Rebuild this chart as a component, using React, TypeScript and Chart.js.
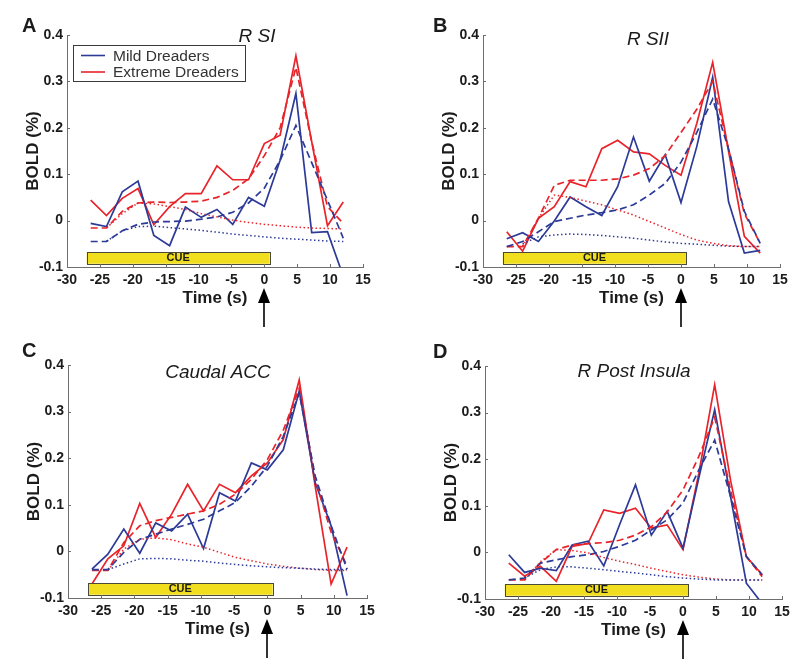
import React, { useEffect, useRef } from 'react';
import { Chart, registerables } from 'chart.js';

Chart.register(...registerables);

// ---------- data ----------
const timeSec = [-26.4, -24, -21.6, -19.2, -16.8, -14.4, -12, -9.6, -7.2, -4.8, -2.4, 0, 2.4, 4.8, 7.2, 9.6, 12];
const xTickValues = [-30, -25, -20, -15, -10, -5, 0, 5, 10, 15];
const xTickLabels = ['-30', '-25', '-20', '-15', '-10', '-5', '0', '5', '10', '15'];
const yTickValues = [-0.1, 0, 0.1, 0.2, 0.3, 0.4];
const yTickLabels = ['-0.1', '0', '0.1', '0.2', '0.3', '0.4'];
const seriesNames = ['Mild Dreaders', 'Extreme Dreaders'];
const panelTitles = ['R SI', 'R SII', 'Caudal ACC', 'R Post Insula'];
const panelLetters = ['A', 'B', 'C', 'D'];
const cueWindow = [-27, 0.8];
const cueBand = [-0.093, -0.068];
const cueLabel = 'CUE';
const xAxisTitle = 'Time (s)';
const yAxisTitle = 'BOLD (%)';

// Panel A: R SI
const aMildRaw = [-0.006, -0.013, 0.062, 0.085, -0.032, -0.054, 0.029, 0.007, 0.024, -0.008, 0.05, 0.031, 0.13, 0.274, -0.026, -0.024, -0.12];
const aExtremeRaw = [0.044, 0.011, 0.048, 0.069, -0.009, 0.03, 0.058, 0.058, 0.118, 0.088, 0.088, 0.166, 0.184, 0.355, 0.17, -0.011, 0.04];
const aMildFit = [-0.045, -0.045, -0.022, -0.008, -0.003, -0.002, -0.001, 0.003, 0.008, 0.018, 0.038, 0.07, 0.13, 0.205, 0.125, 0.044, -0.038];
const aExtremeFit = [-0.016, -0.016, 0.02, 0.038, 0.04, 0.039, 0.04, 0.042, 0.05, 0.065, 0.09, 0.14, 0.2, 0.33, 0.17, 0.03, -0.006];
const aMildDot = [null, -0.045, -0.022, -0.013, -0.012, -0.015, -0.018, -0.021, -0.025, -0.029, -0.032, -0.035, -0.038, -0.04, -0.042, -0.044, -0.045];
const aExtremeDot = [null, -0.016, 0.015, 0.038, 0.036, 0.03, 0.024, 0.015, 0.008, 0.001, -0.004, -0.008, -0.011, -0.014, -0.016, -0.017, -0.018];

// Panel B: R SII
const bMildRaw = [-0.039, -0.026, -0.045, -0.001, 0.051, 0.03, 0.011, 0.073, 0.18, 0.085, 0.142, 0.039, 0.16, 0.309, 0.041, -0.07, -0.064];
const bExtremeRaw = [-0.024, -0.066, 0.005, 0.03, 0.084, 0.073, 0.155, 0.173, 0.148, 0.144, 0.119, 0.098, 0.21, 0.341, 0.15, -0.034, -0.07];
const bMildFit = [-0.056, -0.045, -0.024, -0.002, 0.005, 0.012, 0.017, 0.023, 0.034, 0.055, 0.08, 0.126, 0.19, 0.262, 0.155, 0.02, -0.049];
const bExtremeFit = [-0.056, -0.056, 0.005, 0.076, 0.087, 0.087, 0.087, 0.09, 0.098, 0.112, 0.14, 0.19, 0.24, 0.3, 0.155, 0.015, -0.049];
const bMildDot = [null, -0.05, -0.035, -0.031, -0.029, -0.03, -0.032, -0.035, -0.038, -0.042, -0.046, -0.049, -0.051, -0.053, -0.055, -0.056, -0.056];
const bExtremeDot = [null, -0.056, 0.005, 0.055, 0.05, 0.042, 0.034, 0.023, 0.012, -0.002, -0.016, -0.03, -0.042, -0.049, -0.054, -0.056, -0.056];

// Panel C: Caudal ACC
const cMildRaw = [-0.038, -0.006, 0.048, -0.004, 0.061, 0.044, 0.08, 0.006, 0.126, 0.108, 0.19, 0.175, 0.218, 0.344, 0.148, 0.055, -0.095];
const cExtremeRaw = [-0.07, -0.016, 0.012, 0.103, 0.03, 0.08, 0.144, 0.087, 0.144, 0.126, 0.162, 0.19, 0.24, 0.368, 0.14, -0.07, 0.009];
const cMildFit = [-0.039, -0.039, -0.002, 0.026, 0.037, 0.048, 0.058, 0.069, 0.087, 0.105, 0.14, 0.183, 0.247, 0.34, 0.162, 0.055, -0.038];
const cExtremeFit = [-0.041, -0.041, 0.019, 0.055, 0.066, 0.073, 0.08, 0.087, 0.101, 0.123, 0.155, 0.197, 0.26, 0.35, 0.155, 0.041, -0.031];
const cMildDot = [null, -0.039, -0.027, -0.016, -0.015, -0.016, -0.019, -0.021, -0.025, -0.028, -0.031, -0.033, -0.035, -0.036, -0.038, -0.039, -0.039];
const cExtremeDot = [null, -0.041, 0.005, 0.026, 0.029, 0.025, 0.016, 0.009, -0.002, -0.013, -0.02, -0.027, -0.032, -0.036, -0.039, -0.041, -0.041];

// Panel D: R Post Insula
const dMildRaw = [-0.005, -0.043, -0.034, -0.039, 0.016, 0.024, -0.029, 0.06, 0.145, 0.037, 0.088, 0.009, 0.16, 0.306, 0.12, -0.066, -0.11];
const dExtremeRaw = [-0.023, -0.051, -0.03, -0.062, 0.013, 0.019, 0.091, 0.084, 0.095, 0.052, 0.059, 0.006, 0.17, 0.36, 0.155, -0.009, -0.048];
const dMildFit = [-0.059, -0.055, -0.023, -0.016, -0.009, -0.005, 0.002, 0.013, 0.026, 0.048, 0.07, 0.106, 0.177, 0.241, 0.12, -0.009, -0.048];
const dExtremeFit = [-0.059, -0.059, -0.023, 0.006, 0.016, 0.019, 0.021, 0.026, 0.037, 0.055, 0.087, 0.134, 0.206, 0.29, 0.134, -0.009, -0.052];
const dMildDot = [null, -0.055, -0.037, -0.031, -0.031, -0.034, -0.037, -0.041, -0.044, -0.048, -0.052, -0.055, -0.057, -0.059, -0.059, -0.059, -0.059];
const dExtremeDot = [null, -0.059, -0.02, 0.006, 0.004, -0.001, -0.011, -0.019, -0.026, -0.034, -0.041, -0.048, -0.053, -0.057, -0.059, -0.059, -0.059];

const panelSeries = [
  { mildRaw: aMildRaw, extremeRaw: aExtremeRaw, mildFit: aMildFit, extremeFit: aExtremeFit, mildDot: aMildDot, extremeDot: aExtremeDot },
  { mildRaw: bMildRaw, extremeRaw: bExtremeRaw, mildFit: bMildFit, extremeFit: bExtremeFit, mildDot: bMildDot, extremeDot: bExtremeDot },
  { mildRaw: cMildRaw, extremeRaw: cExtremeRaw, mildFit: cMildFit, extremeFit: cExtremeFit, mildDot: cMildDot, extremeDot: cExtremeDot },
  { mildRaw: dMildRaw, extremeRaw: dExtremeRaw, mildFit: dMildFit, extremeFit: dExtremeFit, mildDot: dMildDot, extremeDot: dExtremeDot },
];

// ---------- styling / layout ----------
const FONT = '"Liberation Sans", Arial, Helvetica, sans-serif';
const BLUE = '#2c3a98';
const RED = '#e8242a';
const AXIS = '#6e6e6e';
const TEXT = '#1b1b1b';
const CUE_FILL = '#f1de1e';
const CUE_EDGE = '#4a4a3a';
const CW = 400;
const CH = 332;

const panelLayout = [
  { x: 0, y: 0, left: 67, right: 363, top: 35, bottom: 267, titleX: 257, titleY: 42, letterX: 22, letterY: 32, legend: true },
  { x: 400, y: 0, left: 83, right: 380, top: 35, bottom: 267, titleX: 248, titleY: 45, letterX: 33, letterY: 32, legend: false },
  { x: 0, y: 332, left: 68, right: 367, top: 33, bottom: 266, titleX: 218, titleY: 46, letterX: 22, letterY: 25, legend: false },
  { x: 400, y: 332, left: 85, right: 382, top: 34, bottom: 267, titleX: 234, titleY: 45, letterX: 33, letterY: 26, legend: false },
];

function pts(arr: (number | null)[]) {
  return timeSec.map((t, i) => ({ x: t, y: arr[i] }));
}

function labelFor(values: number[], labels: string[], v: number) {
  const i = values.findIndex((w) => Math.abs(w - v) < 1e-6);
  return i >= 0 ? labels[i] : '';
}

function makeDecor(idx: number) {
  const L = panelLayout[idx];
  return {
    id: 'decor' + idx,
    afterDatasetsDraw(chart: any) {
      const ctx = chart.ctx;
      const xs = chart.scales.x;
      const ys = chart.scales.y;
      ctx.save();
      // CUE bar
      const x0 = xs.getPixelForValue(cueWindow[0]);
      const x1 = xs.getPixelForValue(cueWindow[1]);
      const y0 = ys.getPixelForValue(cueBand[1]);
      const y1 = ys.getPixelForValue(cueBand[0]);
      ctx.fillStyle = CUE_FILL;
      ctx.fillRect(x0, y0, x1 - x0, y1 - y0);
      ctx.strokeStyle = CUE_EDGE;
      ctx.lineWidth = 1;
      ctx.strokeRect(Math.round(x0) + 0.5, Math.round(y0) + 0.5, Math.round(x1 - x0), Math.round(y1 - y0));
      ctx.fillStyle = TEXT;
      ctx.font = 'bold 11px ' + FONT;
      ctx.textAlign = 'center';
      ctx.textBaseline = 'middle';
      ctx.fillText(cueLabel, (x0 + x1) / 2, (y0 + y1) / 2 + 0.5);
      ctx.restore();
    },
    afterDraw(chart: any) {
      const ctx = chart.ctx;
      const { left, right, top, bottom } = chart.chartArea;
      const xs = chart.scales.x;
      const ys = chart.scales.y;
      ctx.save();
      // inward tick marks
      ctx.strokeStyle = AXIS;
      ctx.lineWidth = 1;
      xTickValues.forEach((v) => {
        const px = Math.round(xs.getPixelForValue(v)) + 0.5;
        ctx.beginPath();
        ctx.moveTo(px, bottom);
        ctx.lineTo(px, bottom - 3);
        ctx.stroke();
      });
      yTickValues.forEach((v) => {
        const py = Math.round(ys.getPixelForValue(v)) + 0.5;
        ctx.beginPath();
        ctx.moveTo(left, py);
        ctx.lineTo(left + 3, py);
        ctx.stroke();
      });
      // axis titles
      ctx.fillStyle = TEXT;
      ctx.font = 'bold 17px ' + FONT;
      ctx.textAlign = 'center';
      ctx.textBaseline = 'middle';
      ctx.fillText(xAxisTitle, (left + right) / 2, bottom + 31);
      ctx.save();
      ctx.translate(left - 34, (top + bottom) / 2);
      ctx.rotate(-Math.PI / 2);
      ctx.fillText(yAxisTitle, 0, 0);
      ctx.restore();
      // panel title
      ctx.font = 'italic 19px ' + FONT;
      ctx.textBaseline = 'alphabetic';
      ctx.fillText(panelTitles[idx], L.titleX, L.titleY);
      // panel letter
      ctx.font = 'bold 20px ' + FONT;
      ctx.textAlign = 'left';
      ctx.fillText(panelLetters[idx], L.letterX, L.letterY);
      // arrow at t = 0
      const ax = Math.round(xs.getPixelForValue(0));
      const tipY = bottom + 21;
      const headY = tipY + 15;
      ctx.fillStyle = '#000';
      ctx.beginPath();
      ctx.moveTo(ax, tipY);
      ctx.lineTo(ax - 6, headY);
      ctx.lineTo(ax + 6, headY);
      ctx.closePath();
      ctx.fill();
      ctx.strokeStyle = '#000';
      ctx.lineWidth = 1.6;
      ctx.beginPath();
      ctx.moveTo(ax, headY - 1);
      ctx.lineTo(ax, bottom + 60);
      ctx.stroke();
      // legend
      if (L.legend) {
        const bx = left + 6;
        const by = top + 10;
        const bw = 172;
        const bh = 36;
        ctx.fillStyle = '#fff';
        ctx.fillRect(bx, by, bw, bh);
        ctx.strokeStyle = '#3a3a3a';
        ctx.lineWidth = 1;
        ctx.strokeRect(bx + 0.5, by + 0.5, bw, bh);
        const colors = [BLUE, RED];
        ctx.font = '15.5px ' + FONT;
        ctx.textBaseline = 'middle';
        ctx.textAlign = 'left';
        seriesNames.forEach((name, i) => {
          const ly = by + 10.5 + i * 16.5;
          ctx.strokeStyle = colors[i];
          ctx.lineWidth = 1.6;
          ctx.beginPath();
          ctx.moveTo(bx + 8, ly);
          ctx.lineTo(bx + 32, ly);
          ctx.stroke();
          ctx.fillStyle = '#333';
          ctx.fillText(name, bx + 40, ly + 1);
        });
      }
      ctx.restore();
    },
  };
}

function Panel({ idx }: { idx: number }) {
  const ref = useRef<HTMLCanvasElement | null>(null);
  useEffect(() => {
    const canvas = ref.current;
    if (!canvas) return;
    const L = panelLayout[idx];
    const s = panelSeries[idx];
    const line = (data: (number | null)[], color: string, dash: number[], width: number) => ({
      data: pts(data),
      borderColor: color,
      backgroundColor: color,
      borderWidth: width,
      borderDash: dash,
      pointRadius: 0,
      pointHoverRadius: 0,
      fill: false,
      tension: 0,
      spanGaps: false,
    });
    const chart = new Chart(canvas, {
      type: 'line',
      data: {
        datasets: [
          line(s.mildDot, BLUE, [1.5, 2.5], 1.5),
          line(s.extremeDot, RED, [1.5, 2.5], 1.5),
          line(s.mildFit, BLUE, [7, 4], 1.7),
          line(s.extremeFit, RED, [7, 4], 1.7),
          line(s.mildRaw, BLUE, [], 1.7),
          line(s.extremeRaw, RED, [], 1.7),
        ] as any,
      },
      options: {
        animation: false,
        responsive: false,
        devicePixelRatio: 1,
        events: [],
        layout: { padding: { left: 0, top: L.top, right: CW - L.right, bottom: 0 } },
        plugins: { legend: { display: false }, title: { display: false }, tooltip: { enabled: false } },
        scales: {
          x: {
            type: 'linear',
            min: -30,
            max: 15,
            afterBuildTicks: (scale: any) => {
              scale.ticks = xTickValues.map((v) => ({ value: v }));
            },
            afterFit: (scale: any) => {
              scale.height = CH - L.bottom;
            },
            ticks: {
              autoSkip: false,
              maxRotation: 0,
              padding: 5,
              color: TEXT,
              font: { family: FONT, size: 14, weight: 'bold' },
              callback: (v: any) => labelFor(xTickValues, xTickLabels, Number(v)),
            },
            grid: { display: true, drawOnChartArea: false, drawTicks: false },
            border: { display: true, color: AXIS, width: 1 },
          },
          y: {
            type: 'linear',
            min: -0.1,
            max: 0.4,
            afterBuildTicks: (scale: any) => {
              scale.ticks = yTickValues.map((v) => ({ value: v }));
            },
            afterFit: (scale: any) => {
              scale.width = L.left;
            },
            ticks: {
              autoSkip: false,
              padding: 4,
              color: TEXT,
              font: { family: FONT, size: 14, weight: 'bold' },
              callback: (v: any) => labelFor(yTickValues, yTickLabels, Number(v)),
            },
            grid: { display: true, drawOnChartArea: false, drawTicks: false },
            border: { display: true, color: AXIS, width: 1 },
          },
        },
      } as any,
      plugins: [makeDecor(idx)],
    });
    return () => chart.destroy();
  }, [idx]);
  const L = panelLayout[idx];
  return (
    <canvas
      ref={ref}
      width={CW}
      height={CH}
      style={{ position: 'absolute', left: L.x, top: L.y, width: CW, height: CH }}
    />
  );
}

export default function App() {
  return (
    <div style={{ position: 'absolute', left: 0, top: 0, width: 800, height: 664, background: '#fff' }}>
      {panelLayout.map((_, i) => (
        <Panel key={i} idx={i} />
      ))}
    </div>
  );
}
